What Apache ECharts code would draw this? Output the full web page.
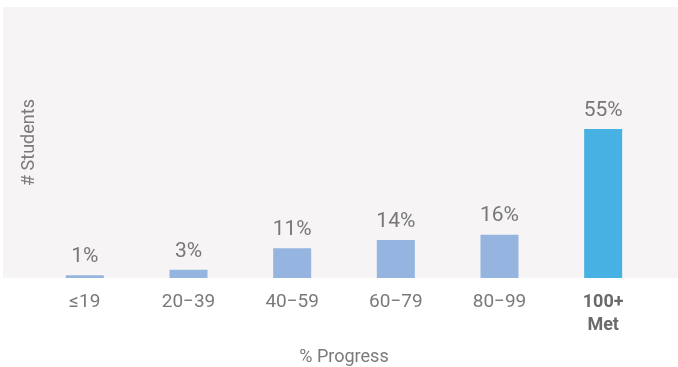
<!DOCTYPE html>
<html>
<head>
<meta charset="utf-8">
<script src="https://cdn.jsdelivr.net/npm/echarts@6/dist/echarts.min.js"></script>
<style>
  html, body { margin: 0; padding: 0; background: #ffffff; }
  #chart { width: 678px; height: 367px; }
</style>
</head>
<body>
<div id="chart"></div>
<script>
// Progress bands and the share of students in each
const categories = ['≤19', '20−39', '40−59', '60−79', '80−99', '100+\nMet'];
const shares = [1, 3, 11, 14, 16, 55];
const barColors = ['#95b4df', '#95b4df', '#95b4df', '#95b4df', '#95b4df', '#48b1e3'];

const chart = echarts.init(document.getElementById('chart'));

chart.setOption({
  animation: false,
  textStyle: { fontFamily: 'Roboto' },
  graphic: [{
    type: 'rect',
    left: 3, top: 7,
    shape: { width: 675, height: 271 },
    style: { fill: '#f6f4f5' },
    silent: true,
    z: -10
  }],
  grid: { left: 33, right: 23, top: 7, bottom: 89, containLabel: false, outerBoundsMode: 'none' },
  xAxis: {
    type: 'category',
    data: categories,
    axisLine: { show: false },
    axisTick: { show: false },
    axisLabel: {
      margin: 13,
      fontSize: 19,
      color: '#7a7a7a',
      lineHeight: 23,
      formatter: function (v, i) {
        return i === categories.length - 1 ? '{b|' + v.replace('\n', '}\n{b|') + '}' : v;
      },
      rich: { b: { fontSize: 18, fontWeight: 'bold', color: '#6a6a6a', lineHeight: 23 } }
    },
    name: '% Progress',
    nameLocation: 'middle',
    nameGap: 70,
    nameTextStyle: { fontSize: 18, color: '#7a7a7a' }
  },
  yAxis: {
    type: 'value',
    min: 0,
    max: 100,
    axisLine: { show: false },
    axisTick: { show: false },
    axisLabel: { show: false },
    splitLine: { show: false },
    name: '# Students',
    nameLocation: 'middle',
    nameGap: -5,
    nameTextStyle: { fontSize: 18, color: '#7a7a7a' }
  },
  series: [{
    type: 'bar',
    barWidth: 38,
    data: shares.map((v, i) => ({ value: v, itemStyle: { color: barColors[i] } })),
    label: {
      show: true,
      position: 'top',
      distance: 8,
      fontSize: 21,
      color: '#777777',
      formatter: '{c}%'
    }
  }]
});
</script>
</body>
</html>
